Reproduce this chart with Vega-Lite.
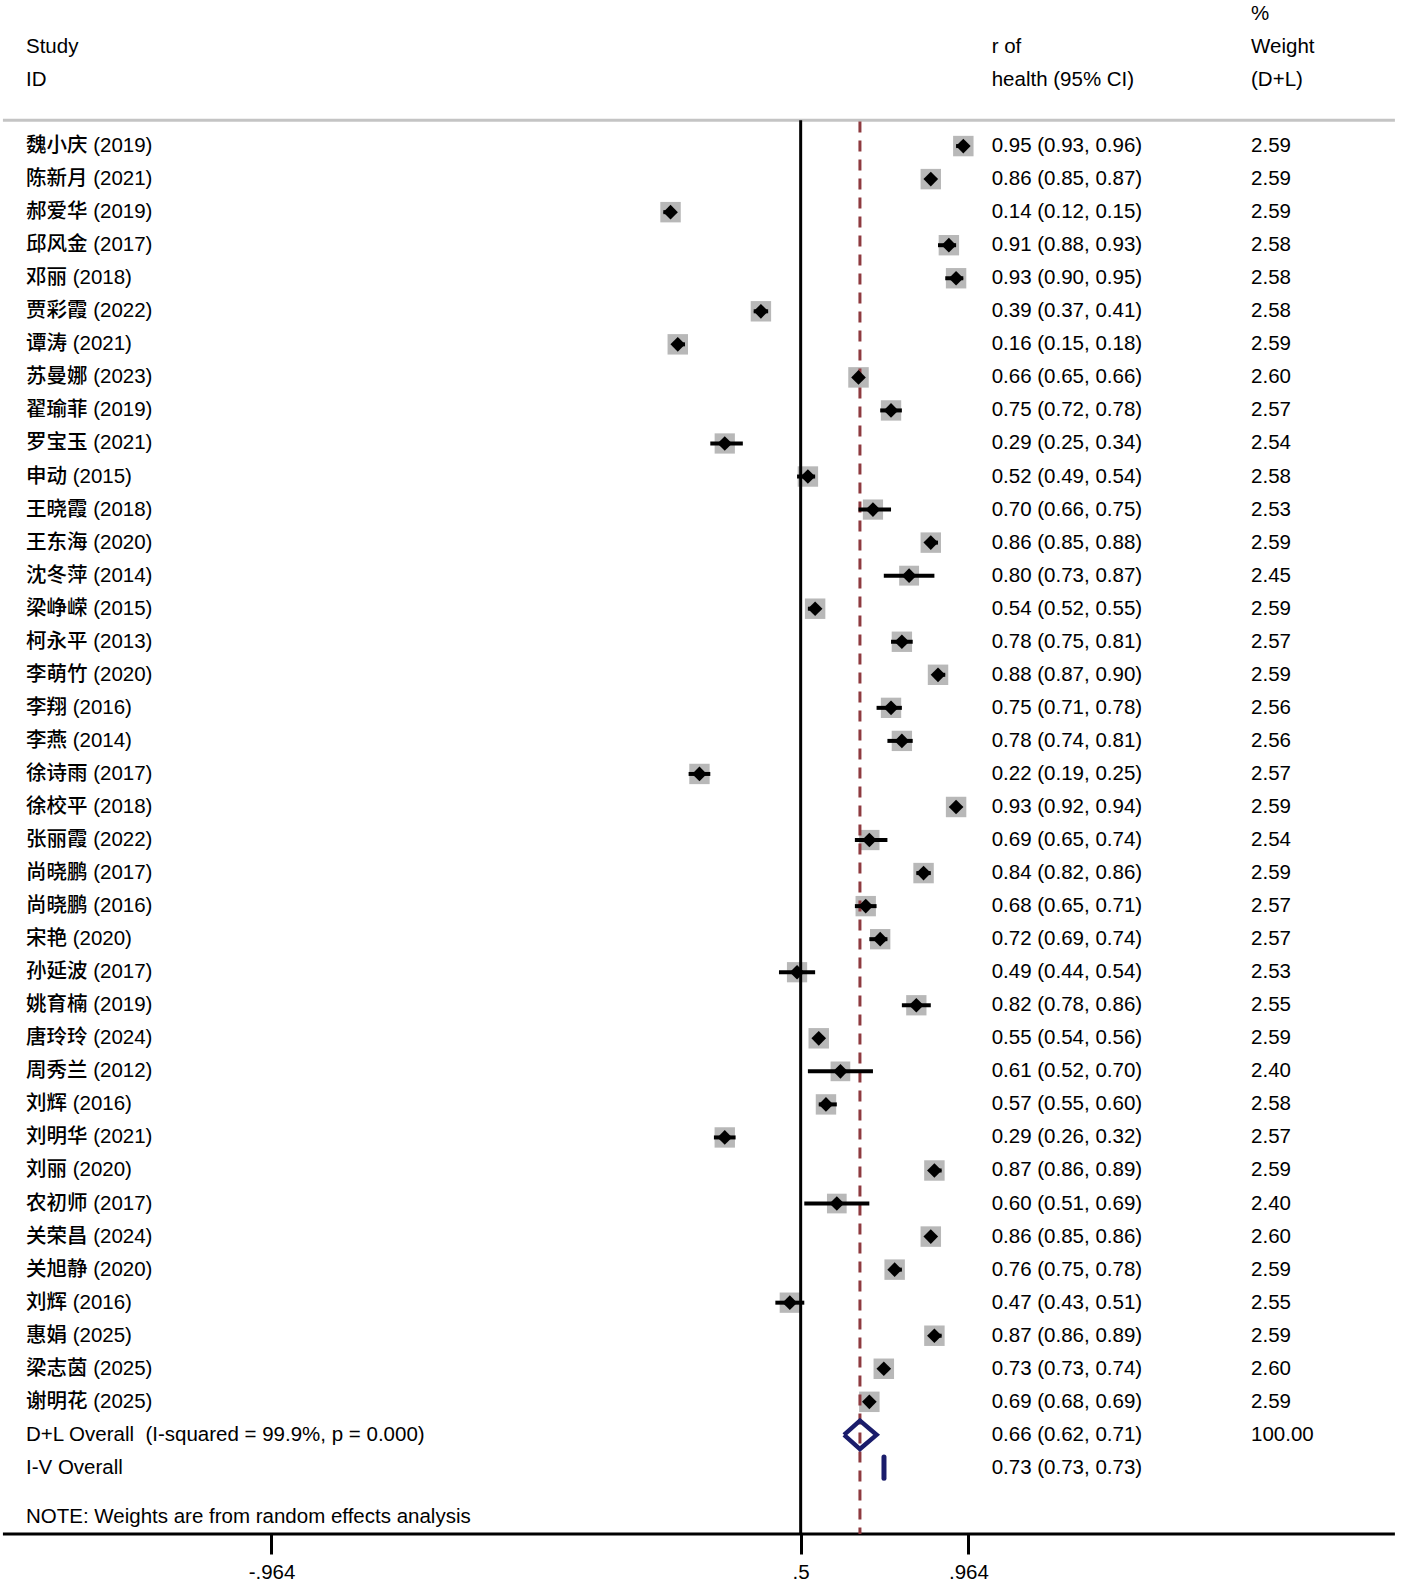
{
  "$schema": "https://vega.github.io/schema/vega-lite/v6.json",
  "width": 1406,
  "height": 1534,
  "padding": 0,
  "background": "white",
  "config": {"view": {"stroke": null}, "text": {"font": "Liberation Sans, Noto Sans CJK SC", "fontSize": 20.5, "fontWeight": 500, "color": "#000000", "baseline": "middle", "align": "left"}},
  "datasets": {
    "studies": [
      {"row": 1, "study": "魏小庆 (2019)", "es": 0.95, "lo": 0.93, "hi": 0.96, "w": 2.59, "ci": "0.95 (0.93, 0.96)", "wt": "2.59"},
      {"row": 2, "study": "陈新月 (2021)", "es": 0.86, "lo": 0.85, "hi": 0.87, "w": 2.59, "ci": "0.86 (0.85, 0.87)", "wt": "2.59"},
      {"row": 3, "study": "郝爱华 (2019)", "es": 0.14, "lo": 0.12, "hi": 0.15, "w": 2.59, "ci": "0.14 (0.12, 0.15)", "wt": "2.59"},
      {"row": 4, "study": "邱风金 (2017)", "es": 0.91, "lo": 0.88, "hi": 0.93, "w": 2.58, "ci": "0.91 (0.88, 0.93)", "wt": "2.58"},
      {"row": 5, "study": "邓丽 (2018)", "es": 0.93, "lo": 0.90, "hi": 0.95, "w": 2.58, "ci": "0.93 (0.90, 0.95)", "wt": "2.58"},
      {"row": 6, "study": "贾彩霞 (2022)", "es": 0.39, "lo": 0.37, "hi": 0.41, "w": 2.58, "ci": "0.39 (0.37, 0.41)", "wt": "2.58"},
      {"row": 7, "study": "谭涛 (2021)", "es": 0.16, "lo": 0.15, "hi": 0.18, "w": 2.59, "ci": "0.16 (0.15, 0.18)", "wt": "2.59"},
      {"row": 8, "study": "苏曼娜 (2023)", "es": 0.66, "lo": 0.65, "hi": 0.66, "w": 2.60, "ci": "0.66 (0.65, 0.66)", "wt": "2.60"},
      {"row": 9, "study": "翟瑜菲 (2019)", "es": 0.75, "lo": 0.72, "hi": 0.78, "w": 2.57, "ci": "0.75 (0.72, 0.78)", "wt": "2.57"},
      {"row": 10, "study": "罗宝玉 (2021)", "es": 0.29, "lo": 0.25, "hi": 0.34, "w": 2.54, "ci": "0.29 (0.25, 0.34)", "wt": "2.54"},
      {"row": 11, "study": "申动 (2015)", "es": 0.52, "lo": 0.49, "hi": 0.54, "w": 2.58, "ci": "0.52 (0.49, 0.54)", "wt": "2.58"},
      {"row": 12, "study": "王晓霞 (2018)", "es": 0.70, "lo": 0.66, "hi": 0.75, "w": 2.53, "ci": "0.70 (0.66, 0.75)", "wt": "2.53"},
      {"row": 13, "study": "王东海 (2020)", "es": 0.86, "lo": 0.85, "hi": 0.88, "w": 2.59, "ci": "0.86 (0.85, 0.88)", "wt": "2.59"},
      {"row": 14, "study": "沈冬萍 (2014)", "es": 0.80, "lo": 0.73, "hi": 0.87, "w": 2.45, "ci": "0.80 (0.73, 0.87)", "wt": "2.45"},
      {"row": 15, "study": "梁峥嵘 (2015)", "es": 0.54, "lo": 0.52, "hi": 0.55, "w": 2.59, "ci": "0.54 (0.52, 0.55)", "wt": "2.59"},
      {"row": 16, "study": "柯永平 (2013)", "es": 0.78, "lo": 0.75, "hi": 0.81, "w": 2.57, "ci": "0.78 (0.75, 0.81)", "wt": "2.57"},
      {"row": 17, "study": "李萌竹 (2020)", "es": 0.88, "lo": 0.87, "hi": 0.90, "w": 2.59, "ci": "0.88 (0.87, 0.90)", "wt": "2.59"},
      {"row": 18, "study": "李翔 (2016)", "es": 0.75, "lo": 0.71, "hi": 0.78, "w": 2.56, "ci": "0.75 (0.71, 0.78)", "wt": "2.56"},
      {"row": 19, "study": "李燕 (2014)", "es": 0.78, "lo": 0.74, "hi": 0.81, "w": 2.56, "ci": "0.78 (0.74, 0.81)", "wt": "2.56"},
      {"row": 20, "study": "徐诗雨 (2017)", "es": 0.22, "lo": 0.19, "hi": 0.25, "w": 2.57, "ci": "0.22 (0.19, 0.25)", "wt": "2.57"},
      {"row": 21, "study": "徐校平 (2018)", "es": 0.93, "lo": 0.92, "hi": 0.94, "w": 2.59, "ci": "0.93 (0.92, 0.94)", "wt": "2.59"},
      {"row": 22, "study": "张丽霞 (2022)", "es": 0.69, "lo": 0.65, "hi": 0.74, "w": 2.54, "ci": "0.69 (0.65, 0.74)", "wt": "2.54"},
      {"row": 23, "study": "尚晓鹏 (2017)", "es": 0.84, "lo": 0.82, "hi": 0.86, "w": 2.59, "ci": "0.84 (0.82, 0.86)", "wt": "2.59"},
      {"row": 24, "study": "尚晓鹏 (2016)", "es": 0.68, "lo": 0.65, "hi": 0.71, "w": 2.57, "ci": "0.68 (0.65, 0.71)", "wt": "2.57"},
      {"row": 25, "study": "宋艳 (2020)", "es": 0.72, "lo": 0.69, "hi": 0.74, "w": 2.57, "ci": "0.72 (0.69, 0.74)", "wt": "2.57"},
      {"row": 26, "study": "孙延波 (2017)", "es": 0.49, "lo": 0.44, "hi": 0.54, "w": 2.53, "ci": "0.49 (0.44, 0.54)", "wt": "2.53"},
      {"row": 27, "study": "姚育楠 (2019)", "es": 0.82, "lo": 0.78, "hi": 0.86, "w": 2.55, "ci": "0.82 (0.78, 0.86)", "wt": "2.55"},
      {"row": 28, "study": "唐玲玲 (2024)", "es": 0.55, "lo": 0.54, "hi": 0.56, "w": 2.59, "ci": "0.55 (0.54, 0.56)", "wt": "2.59"},
      {"row": 29, "study": "周秀兰 (2012)", "es": 0.61, "lo": 0.52, "hi": 0.70, "w": 2.40, "ci": "0.61 (0.52, 0.70)", "wt": "2.40"},
      {"row": 30, "study": "刘辉 (2016)", "es": 0.57, "lo": 0.55, "hi": 0.60, "w": 2.58, "ci": "0.57 (0.55, 0.60)", "wt": "2.58"},
      {"row": 31, "study": "刘明华 (2021)", "es": 0.29, "lo": 0.26, "hi": 0.32, "w": 2.57, "ci": "0.29 (0.26, 0.32)", "wt": "2.57"},
      {"row": 32, "study": "刘丽 (2020)", "es": 0.87, "lo": 0.86, "hi": 0.89, "w": 2.59, "ci": "0.87 (0.86, 0.89)", "wt": "2.59"},
      {"row": 33, "study": "农初师 (2017)", "es": 0.60, "lo": 0.51, "hi": 0.69, "w": 2.40, "ci": "0.60 (0.51, 0.69)", "wt": "2.40"},
      {"row": 34, "study": "关荣昌 (2024)", "es": 0.86, "lo": 0.85, "hi": 0.86, "w": 2.60, "ci": "0.86 (0.85, 0.86)", "wt": "2.60"},
      {"row": 35, "study": "关旭静 (2020)", "es": 0.76, "lo": 0.75, "hi": 0.78, "w": 2.59, "ci": "0.76 (0.75, 0.78)", "wt": "2.59"},
      {"row": 36, "study": "刘辉 (2016)", "es": 0.47, "lo": 0.43, "hi": 0.51, "w": 2.55, "ci": "0.47 (0.43, 0.51)", "wt": "2.55"},
      {"row": 37, "study": "惠娟 (2025)", "es": 0.87, "lo": 0.86, "hi": 0.89, "w": 2.59, "ci": "0.87 (0.86, 0.89)", "wt": "2.59"},
      {"row": 38, "study": "梁志茵 (2025)", "es": 0.73, "lo": 0.73, "hi": 0.74, "w": 2.60, "ci": "0.73 (0.73, 0.74)", "wt": "2.60"},
      {"row": 39, "study": "谢明花 (2025)", "es": 0.69, "lo": 0.68, "hi": 0.69, "w": 2.59, "ci": "0.69 (0.68, 0.69)", "wt": "2.59"}
    ],
    "labels": [
      {"row": 40, "study": "D+L Overall \u00a0(I-squared = 99.9%, p = 0.000)", "ci": "0.66 (0.62, 0.71)", "wt": "100.00"},
      {"row": 41, "study": "I-V Overall", "ci": "0.73 (0.73, 0.73)", "wt": ""},
      {"row": 42.5, "study": "NOTE: Weights are from random effects analysis", "ci": "", "wt": ""},
      {"row": -2, "study": "Study", "ci": "r of", "wt": "Weight"},
      {"row": -1, "study": "ID", "ci": "health (95% CI)", "wt": "(D+L)"},
      {"row": -3, "study": "", "ci": "", "wt": "%"}
    ],
    "dl": [
      {"k": 1, "x": 0.62, "y": 40},
      {"k": 2, "x": 0.664, "y": 39.57},
      {"k": 3, "x": 0.71, "y": 40},
      {"k": 4, "x": 0.664, "y": 40.43},
      {"k": 5, "x": 0.62, "y": 40}
    ]
  },
  "layer": [
    {
      "data": {"name": "studies"},
      "mark": {"type": "point", "shape": "square", "filled": true, "color": "#b8b8b8", "opacity": 1},
      "encoding": {
        "x": {"field": "es", "type": "quantitative", "scale": {"domain": [-1.7151, 2.1747], "nice": false, "zero": false},
          "axis": {"values": [-0.964, 0.5, 0.964], "labelExpr": "datum.value == 0.5 ? '.5' : (datum.value < 0 ? '-.964' : '.964')", "domain": false, "grid": false, "ticks": true, "tickSize": 20, "tickWidth": 3, "tickColor": "#000000", "labelFont": "Liberation Sans", "labelFontSize": 20.5, "labelColor": "#000000", "labelPadding": 8, "title": null, "labelFlush": false, "labelOverlap": false}},
        "y": {"field": "row", "type": "quantitative", "scale": {"domain": [-3.42, 43], "reverse": true, "nice": false, "zero": false}, "axis": null},
        "size": {"field": "w", "type": "quantitative", "scale": {"type": "linear", "domain": [0, 2.6], "range": [0, 420]}, "legend": null}
      }
    },
    {
      "data": {"values": [{"a": 1}]},
      "mark": {"type": "rule", "color": "#c4c4c4", "strokeWidth": 3},
      "encoding": {
        "x": {"datum": -1.707, "type": "quantitative"},
        "x2": {"datum": 2.144},
        "y": {"datum": 0.22, "type": "quantitative"}
      }
    },
    {
      "data": {"values": [{"a": 1}]},
      "mark": {"type": "rule", "color": "#000000", "strokeWidth": 3},
      "encoding": {
        "x": {"datum": -1.707, "type": "quantitative"},
        "x2": {"datum": 2.144},
        "y": {"datum": 43, "type": "quantitative"}
      }
    },
    {
      "data": {"values": [{"a": 1}]},
      "mark": {"type": "rule", "color": "#000000", "strokeWidth": 3},
      "encoding": {
        "x": {"datum": 0.5, "type": "quantitative"},
        "y": {"datum": 0.22, "type": "quantitative"},
        "y2": {"datum": 43}
      }
    },
    {
      "data": {"values": [{"a": 1}]},
      "mark": {"type": "rule", "color": "#8e3a3f", "strokeWidth": 3, "strokeDash": [11, 8]},
      "encoding": {
        "x": {"datum": 0.664, "type": "quantitative"},
        "y": {"datum": 0.26, "type": "quantitative"},
        "y2": {"datum": 43}
      }
    },
    {
      "data": {"name": "studies"},
      "mark": {"type": "rule", "color": "#000000", "strokeWidth": 4},
      "encoding": {
        "x": {"field": "lo", "type": "quantitative"},
        "x2": {"field": "hi"},
        "y": {"field": "row", "type": "quantitative"}
      }
    },
    {
      "data": {"name": "studies"},
      "mark": {"type": "point", "shape": "diamond", "filled": true, "color": "#000000", "opacity": 1, "size": 215},
      "encoding": {
        "x": {"field": "es", "type": "quantitative"},
        "y": {"field": "row", "type": "quantitative"}
      }
    },
    {
      "data": {"name": "dl"},
      "mark": {"type": "line", "color": "#1a1c6b", "strokeWidth": 4.5, "strokeJoin": "miter"},
      "encoding": {
        "x": {"field": "x", "type": "quantitative"},
        "y": {"field": "y", "type": "quantitative"},
        "order": {"field": "k", "type": "quantitative"}
      }
    },
    {
      "data": {"values": [{"a": 1}]},
      "mark": {"type": "rule", "color": "#1a1c6b", "strokeWidth": 5, "strokeCap": "round"},
      "encoding": {
        "x": {"datum": 0.7305, "type": "quantitative"},
        "y": {"datum": 40.67, "type": "quantitative"},
        "y2": {"datum": 41.31}
      }
    },
    {
      "data": {"name": "studies"},
      "mark": {"type": "text"},
      "encoding": {
        "x": {"datum": -1.6432, "type": "quantitative"},
        "y": {"field": "row", "type": "quantitative"},
        "text": {"field": "study"}
      }
    },
    {
      "data": {"name": "studies"},
      "mark": {"type": "text"},
      "encoding": {
        "x": {"datum": 1.0285, "type": "quantitative"},
        "y": {"field": "row", "type": "quantitative"},
        "text": {"field": "ci"}
      }
    },
    {
      "data": {"name": "studies"},
      "mark": {"type": "text"},
      "encoding": {
        "x": {"datum": 1.746, "type": "quantitative"},
        "y": {"field": "row", "type": "quantitative"},
        "text": {"field": "wt"}
      }
    },
    {
      "data": {"name": "labels"},
      "mark": {"type": "text"},
      "encoding": {
        "x": {"datum": -1.6432, "type": "quantitative"},
        "y": {"field": "row", "type": "quantitative"},
        "text": {"field": "study"}
      }
    },
    {
      "data": {"name": "labels"},
      "mark": {"type": "text"},
      "encoding": {
        "x": {"datum": 1.0285, "type": "quantitative"},
        "y": {"field": "row", "type": "quantitative"},
        "text": {"field": "ci"}
      }
    },
    {
      "data": {"name": "labels"},
      "mark": {"type": "text"},
      "encoding": {
        "x": {"datum": 1.746, "type": "quantitative"},
        "y": {"field": "row", "type": "quantitative"},
        "text": {"field": "wt"}
      }
    }
  ]
}
